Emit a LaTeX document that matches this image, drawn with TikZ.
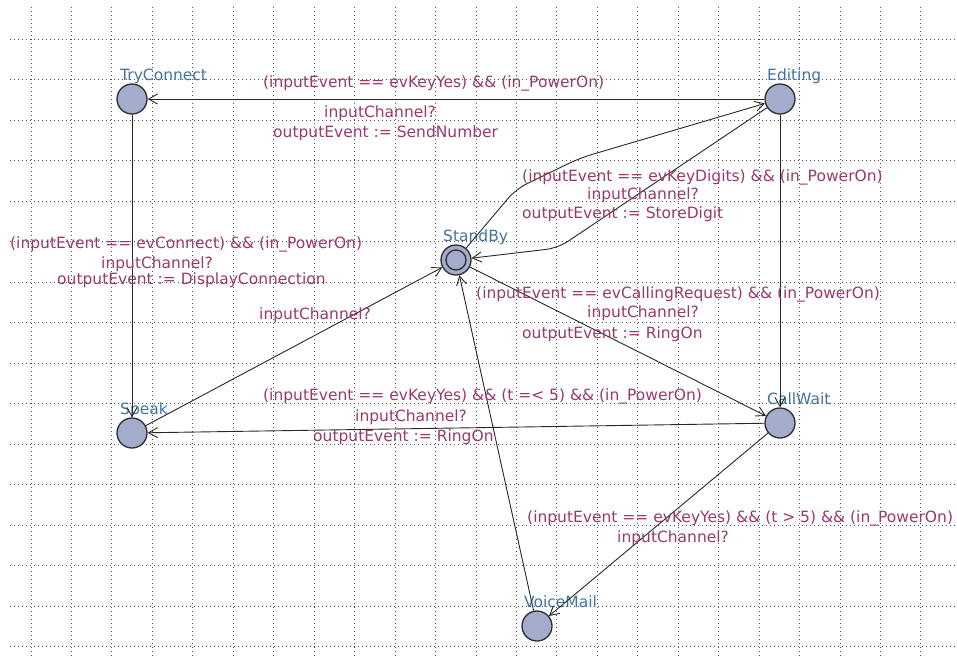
\documentclass[tikz,border=0pt]{standalone}
\usepackage{fontspec}
\setmainfont{DejaVu Sans}
\usetikzlibrary{arrows.meta}

\definecolor{locfill}{RGB}{164,172,204}
\definecolor{locborder}{RGB}{45,45,50}
\definecolor{namecol}{RGB}{66,116,160}
\definecolor{labcol}{RGB}{152,58,108}
\definecolor{edgecol}{RGB}{40,40,40}
\definecolor{gridcol}{RGB}{80,80,80}

\newcommand{\lblfont}{\fontsize{15.5}{18}\selectfont}

\begin{document}
\begin{tikzpicture}[x=1pt, y=-1pt,
  gridline/.style={gridcol, line width=0.9pt, dash pattern=on 1pt off 3pt},
  loc/.style={circle, draw=locborder, fill=locfill, line width=1.3pt,
              minimum size=30pt, inner sep=0pt},
  locname/.style={anchor=base west, inner sep=0pt, text=namecol, font=\lblfont},
  elab/.style={anchor=base west, inner sep=0pt, text=labcol, font=\lblfont},
  edge/.style={draw=edgecol, line width=0.9pt,
               -{Straight Barb[length=9pt, width=10pt]}}]

\useasboundingbox (0,0) rectangle (957,657);
\fill[white] (0,0) rectangle (957,657);

% background grid
\foreach \k in {0,...,22}
  \draw[gridline] ({31+40.45*\k},7) -- ({31+40.45*\k},657);
\foreach \k in {0,...,15}
  \draw[gridline] (10,{39+40.5*\k}) -- (957,{39+40.5*\k});

% locations
\node[loc] (tc) at (132,99)  {};
\node[loc] (ed) at (780,99)  {};
\node[loc] (sb) at (456,260) {};
\node[loc] (sp) at (132,433) {};
\node[loc] (cw) at (780,423) {};
\node[loc] (vm) at (537,626) {};
\draw[locborder, line width=1.3pt] (sb.center) circle[radius=10pt];

% location names
\node[locname] (ntc) at (120,80)  {TryConnect};
\node[locname] (ned) at (767,80)  {Editing};
\node[locname] (nsb) at (443,241) {StandBy};
\node[locname] (nsp) at (120,414) {Speak};
\node[locname] (ncw) at (767,404) {CallWait};
\node[locname] (nvm) at (524,607) {VoiceMail};

% transitions
\draw[edge] (ed) -- (tc);
\draw[edge, rounded corners=12pt] (sb) -- (516,189) -- (580,158) -- (ed);
\draw[edge, rounded corners=12pt] (ed) -- (558,248) -- (sb);
\draw[edge] (tc) -- (sp);
\draw[edge] (sp) -- (sb);
\draw[edge] (sb) -- (cw);
\draw[edge] (cw) -- (sp);
\draw[edge] (cw) -- (vm);
\draw[edge] (vm) -- (sb);
\draw[edge] (ed) -- (cw);

% Editing -> TryConnect
\node[elab] (g1) at (263,87)  {(inputEvent == evKeyYes) \&\& (in\_PowerOn)};
\node[elab] (s1) at (324,117) {inputChannel?};
\node[elab] (u1) at (273,137) {outputEvent := SendNumber};

% Editing -> StandBy
\node[elab] (g2) at (522,181) {(inputEvent == evKeyDigits) \&\& (in\_PowerOn)};
\node[elab] (s2) at (587,199) {inputChannel?};
\node[elab] (u2) at (522,218) {outputEvent := StoreDigit};

% TryConnect -> Speak
\node[elab] (g3) at (10,248)  {(inputEvent == evConnect) \&\& (in\_PowerOn)};
\node[elab] (s3) at (101,268) {inputChannel?};
\node[elab] (u3) at (57,284)  {outputEvent := DisplayConnection};

% Speak -> StandBy
\node[elab] (s4) at (259,319) {inputChannel?};

% StandBy -> CallWait
\node[elab] (g5) at (476,298) {(inputEvent == evCallingRequest) \&\& (in\_PowerOn)};
\node[elab] (s5) at (587,317) {inputChannel?};
\node[elab] (u5) at (522,338) {outputEvent := RingOn};

% CallWait -> Speak
\node[elab] (g6) at (263,400) {(inputEvent == evKeyYes) \&\& (t =< 5) \&\& (in\_PowerOn)};
\node[elab] (s6) at (355,421) {inputChannel?};
\node[elab] (u6) at (313,441) {outputEvent := RingOn};

% CallWait -> VoiceMail
\node[elab] (g7) at (527,522) {(inputEvent == evKeyYes) \&\& (t > 5) \&\& (in\_PowerOn)};
\node[elab] (s7) at (617,542) {inputChannel?};

\end{tikzpicture}
\end{document}
